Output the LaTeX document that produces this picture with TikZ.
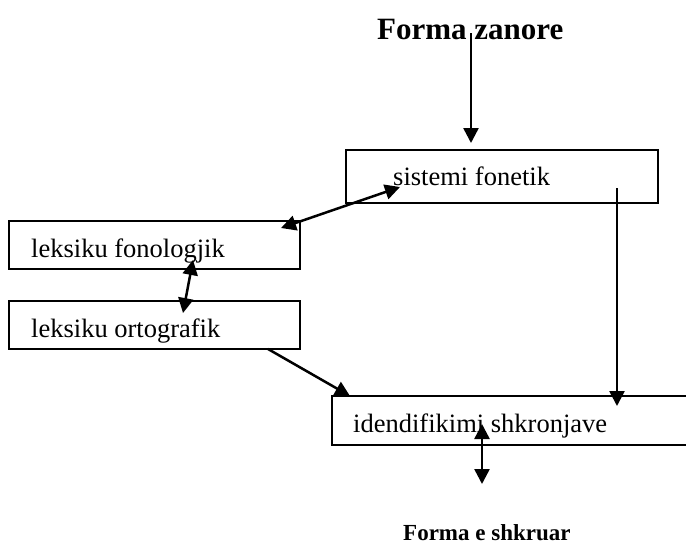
\documentclass[tikz,border=0pt]{standalone}
\usepackage{fontspec}
\setmainfont{Liberation Serif}
\usetikzlibrary{arrows.meta}
\tikzset{
  boxst/.style={draw, line width=2pt, inner sep=0pt},
  lbl/.style={anchor=base west, inner sep=0pt, font=\fontsize{26.5}{30}\selectfont},
  ttl/.style={anchor=base west, inner sep=0pt, font=\bfseries\fontsize{31}{34}\selectfont},
  ttlsmall/.style={anchor=base west, inner sep=0pt, font=\bfseries\fontsize{23}{26}\selectfont},
  tip/.style={Triangle[length=15pt,width=15pt]},
  arr/.style={line width=2.5pt, -{Triangle[length=15pt,width=15pt]}},
  darr/.style={line width=2.5pt, {Triangle[length=15pt,width=15pt]}-{Triangle[length=15pt,width=15pt]}}
}
\begin{document}
\begin{tikzpicture}[x=1pt,y=-1pt]
\useasboundingbox (0,0) rectangle (686,547);
\clip (0,0) rectangle (686,547);
% boxes
\node[boxst, minimum width=312pt, minimum height=53pt] (sf) at (502,176.5) {};
\node[boxst, minimum width=291pt, minimum height=48pt] (lf) at (154.5,245) {};
\node[boxst, minimum width=291pt, minimum height=48pt] (lo) at (154.5,325) {};
\node[boxst, minimum width=388pt, minimum height=49pt] (id) at (526,420.5) {};
% texts
\node[ttl] (fz) at (377,39) {Forma zanore};
\node[lbl] (sft) at (393,185) {sistemi fonetik};
\node[lbl] (lft) at (31,257) {leksiku fonologjik};
\node[lbl] (lot) at (31,337) {leksiku ortografik};
\node[lbl] (idt) at (353,432) {idendifikimi shkronjave};
\node[ttlsmall] (fs) at (403,540) {Forma e shkruar};
% connector end points
\coordinate (a1s) at (471,33);
\coordinate (a1e) at (471,143);
\coordinate (a2s) at (400,187);
\coordinate (a2e) at (281,228);
\coordinate (a3s) at (193,260);
\coordinate (a3e) at (183,313);
\coordinate (a4s) at (268,349);
\coordinate (a4e) at (350,396);
\coordinate (a5s) at (617,188);
\coordinate (a5e) at (617,406);
\coordinate (a6s) at (482,424);
\coordinate (a6e) at (482,484);
% connectors
\draw[arr] (a1s) -- (a1e);
\draw[darr] (a2s) -- (a2e);
\draw[darr] (a3s) -- (a3e);
\draw[arr] (a4s) -- (a4e);
\draw[arr] (a5s) -- (a5e);
\draw[darr] (a6s) -- (a6e);
\end{tikzpicture}
\end{document}
